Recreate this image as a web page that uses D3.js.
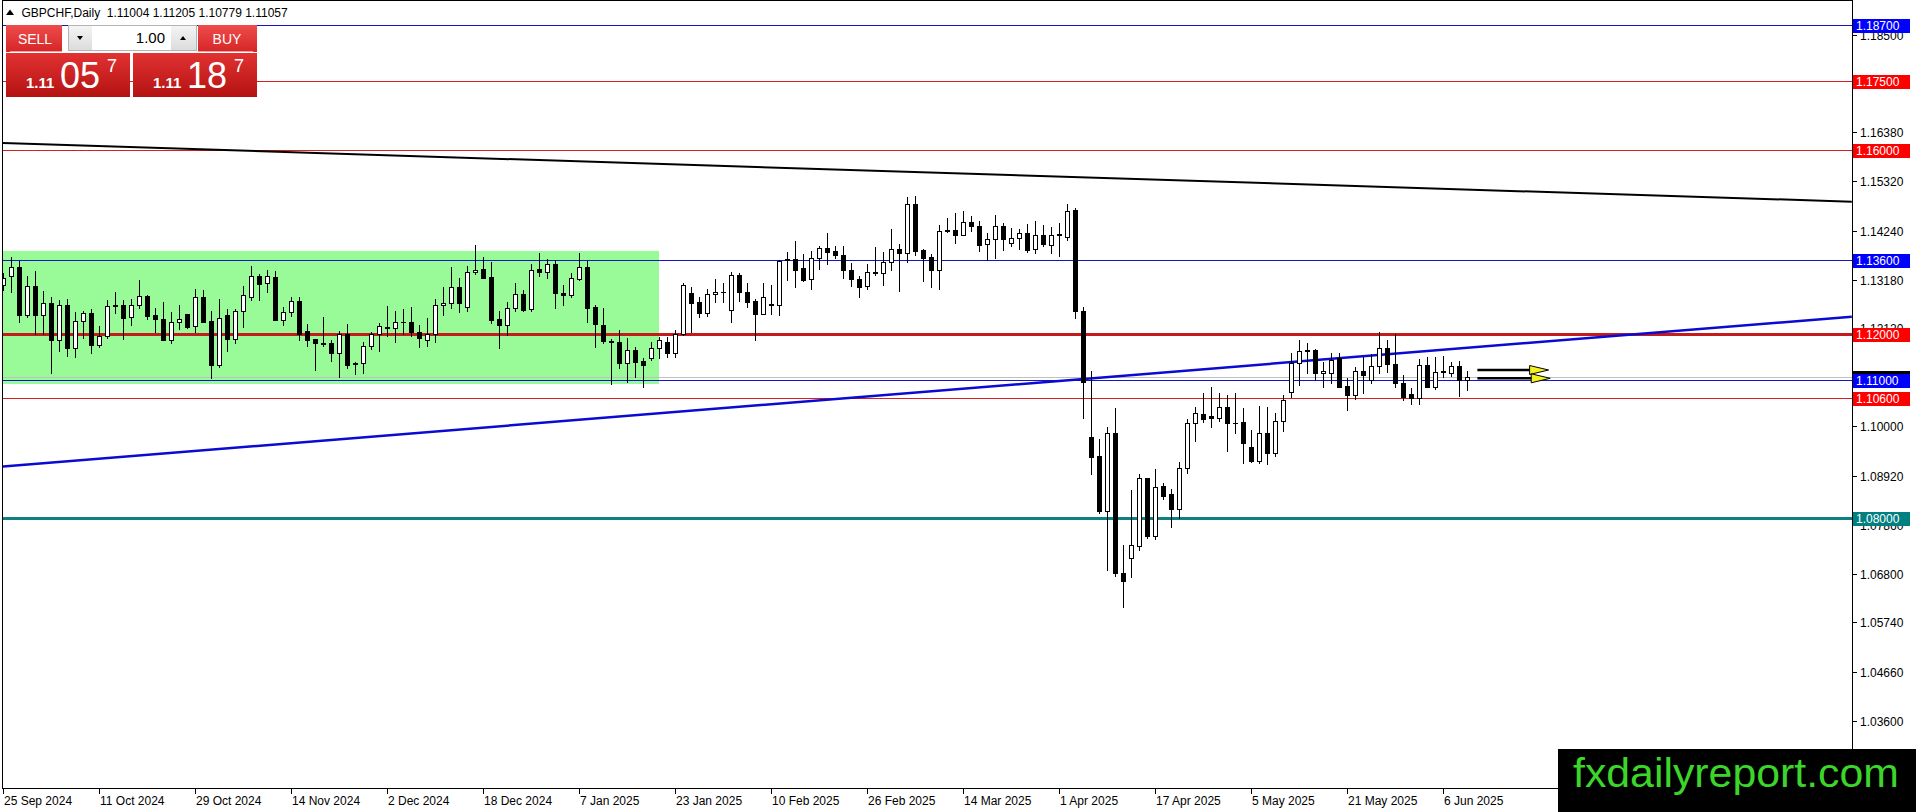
<!DOCTYPE html>
<html><head><meta charset="utf-8">
<script src="https://cdn.jsdelivr.net/npm/d3@7"></script>
<style>html,body{margin:0;padding:0;background:#fff;overflow:hidden}svg{display:block}</style>
</head><body>
<svg id="chart" width="1916" height="812"></svg>
<script>
// ---------------- DATA ----------------
const symbolTitle = "GBPCHF,Daily";
const lastQuote = [1.11004, 1.11205, 1.10779, 1.11057];
const bidPrice = 1.11057;
const askPrice = 1.11187;
const lotSize = "1.00";

const openP = [1.1306,1.1326,1.1345,1.1242,1.1304,1.1241,1.1267,1.1187,1.1262,1.1170,
1.1228,1.1245,1.1177,1.1196,1.1260,1.1264,1.1236,1.1262,1.1283,1.1241,
1.1232,1.1188,1.1226,1.1243,1.1217,1.1280,1.1228,1.1133,1.1241,1.1190,
1.1250,1.1280,1.1325,1.1310,1.1324,1.1231,1.1247,1.1271,1.1207,1.1189,
1.1180,1.1180,1.1158,1.1201,1.1136,1.1136,1.1175,1.1199,1.1216,1.1212,
1.1226,1.1227,1.1204,1.1188,1.1199,1.1262,1.1267,1.1302,1.1259,1.1335,
1.1341,1.1324,1.1232,1.1220,1.1257,1.1287,1.1254,1.1341,1.1335,1.1352,
1.1289,1.1284,1.1319,1.1345,1.1259,1.1220,1.1185,1.1183,1.1138,1.1165,
1.1141,1.1147,1.1169,1.1183,1.1159,1.1200,1.1288,1.1269,1.1245,1.1286,
1.1291,1.1252,1.1327,1.1291,1.1271,1.1244,1.1264,1.1264,1.1360,1.1362,
1.1343,1.1319,1.1364,1.1386,1.1380,1.1371,1.1340,1.1319,1.1304,1.1332,
1.1332,1.1356,1.1384,1.1375,1.1482,1.1382,1.1367,1.1339,1.1423,1.1425,
1.1416,1.1443,1.1434,1.1395,1.1406,1.1434,1.1397,1.1408,1.1419,1.1384,
1.1414,1.1393,1.1417,1.1411,1.1469,1.1249,1.0976,1.0935,1.0816,1.0986,
1.0682,1.0713,1.0740,1.0887,1.0762,1.0870,1.0852,1.0819,1.0910,1.1006,
1.1026,1.1022,1.1017,1.1041,1.1007,1.1010,1.0954,1.0925,1.0986,1.0942,
1.1011,1.1073,1.1136,1.1165,1.1165,1.1115,1.1115,1.1147,1.1087,1.1068,
1.1120,1.1100,1.1131,1.1169,1.1134,1.1094,1.1069,1.1060,1.1132,1.1086,
1.1117,1.1115,1.1131,1.11004];
const highP = [1.1332,1.1367,1.1359,1.1326,1.1337,1.1293,1.1280,1.1273,1.1275,1.1248,
1.1251,1.1255,1.1217,1.1273,1.1291,1.1274,1.1276,1.1317,1.1284,1.1256,
1.1270,1.1248,1.1264,1.1244,1.1298,1.1296,1.1251,1.1277,1.1254,1.1254,
1.1304,1.1348,1.1330,1.1339,1.1336,1.1259,1.1280,1.1280,1.1221,1.1190,
1.1236,1.1187,1.1207,1.1221,1.1139,1.1183,1.1205,1.1224,1.1260,1.1249,
1.1254,1.1259,1.1220,1.1234,1.1277,1.1303,1.1345,1.1321,1.1348,1.1393,
1.1367,1.1356,1.1250,1.1270,1.1311,1.1296,1.1352,1.1375,1.1363,1.1361,
1.1306,1.1332,1.1375,1.1359,1.1263,1.1256,1.1189,1.1209,1.1191,1.1172,
1.1147,1.1183,1.1194,1.1194,1.1209,1.1310,1.1301,1.1281,1.1297,1.1319,
1.1311,1.1335,1.1333,1.1310,1.1275,1.1310,1.1306,1.1360,1.1378,1.1401,
1.1374,1.1380,1.1391,1.1419,1.1390,1.1391,1.1355,1.1325,1.1351,1.1388,
1.1379,1.1427,1.1395,1.1497,1.1500,1.1384,1.1374,1.1437,1.1451,1.1462,
1.1467,1.1456,1.1446,1.1419,1.1458,1.1442,1.1430,1.1427,1.1439,1.1445,
1.1437,1.1433,1.1440,1.1482,1.1473,1.1258,1.1120,1.0973,1.0999,1.1039,
1.0742,1.0861,1.0896,1.0888,1.0906,1.0876,1.0863,1.0923,1.1015,1.1041,
1.1071,1.1084,1.1071,1.1068,1.1071,1.1039,1.0992,1.1044,1.1041,1.1029,
1.1068,1.1158,1.1187,1.1181,1.1167,1.1140,1.1159,1.1158,1.1104,1.1129,
1.1151,1.1156,1.1204,1.1187,1.1201,1.1111,1.1082,1.1146,1.1149,1.1151,
1.1152,1.1139,1.1142,1.11205];
const lowP = [1.1296,1.1292,1.1227,1.1236,1.1199,1.1201,1.1116,1.1164,1.1153,1.1149,
1.1192,1.1159,1.1171,1.1191,1.1245,1.1190,1.1220,1.1256,1.1232,1.1205,
1.1186,1.1181,1.1210,1.1214,1.1205,1.1225,1.1104,1.1129,1.1164,1.1181,
1.1216,1.1274,1.1274,1.1292,1.1230,1.1220,1.1239,1.1186,1.1174,1.1122,
1.1174,1.1142,1.1106,1.1126,1.1113,1.1116,1.1168,1.1162,1.1196,1.1183,
1.1199,1.1196,1.1172,1.1174,1.1183,1.1241,1.1256,1.1247,1.1249,1.1330,
1.1321,1.1223,1.1170,1.1198,1.1249,1.1251,1.1251,1.1325,1.1322,1.1256,
1.1264,1.1280,1.1317,1.1225,1.1171,1.1180,1.1091,1.1127,1.1096,1.1106,
1.1084,1.1144,1.1147,1.1149,1.1151,1.1198,1.1205,1.1236,1.1238,1.1270,
1.1269,1.1225,1.1272,1.1259,1.1187,1.1243,1.1243,1.1241,1.1317,1.1303,
1.1314,1.1297,1.1342,1.1352,1.1364,1.1322,1.1305,1.1281,1.1297,1.1327,
1.1306,1.1339,1.1294,1.1357,1.1372,1.1316,1.1301,1.1298,1.1422,1.1398,
1.1415,1.1424,1.1381,1.1361,1.1366,1.1382,1.1390,1.1385,1.1377,1.1375,
1.1390,1.1375,1.1370,1.1403,1.1235,1.1018,1.0897,1.0812,1.0687,1.0674,
1.0608,1.0673,1.0731,1.0756,1.0754,1.0841,1.0780,1.0800,1.0899,1.0968,
1.1010,1.0999,1.1012,1.0947,1.0986,1.0919,1.0923,1.0919,1.0918,1.0936,
1.0990,1.1064,1.1089,1.1115,1.1100,1.1086,1.1094,1.1084,1.1036,1.1058,
1.1071,1.1093,1.1116,1.1117,1.1086,1.1057,1.1047,1.1047,1.1084,1.1080,
1.1106,1.1109,1.1065,1.10779];
const closeP = [1.1322,1.1345,1.1242,1.1304,1.1241,1.1267,1.1186,1.1262,1.1170,1.1228,
1.1245,1.1177,1.1196,1.1260,1.1264,1.1235,1.1262,1.1283,1.1238,1.1232,
1.1187,1.1226,1.1232,1.1216,1.1280,1.1227,1.1133,1.1234,1.1190,1.1250,
1.1284,1.1325,1.1308,1.1325,1.1231,1.1247,1.1271,1.1200,1.1188,1.1181,
1.1179,1.1158,1.1201,1.1133,1.1135,1.1175,1.1199,1.1218,1.1212,1.1227,
1.1227,1.1204,1.1192,1.1199,1.1262,1.1267,1.1302,1.1267,1.1335,1.1340,
1.1322,1.1230,1.1220,1.1257,1.1287,1.1252,1.1340,1.1335,1.1353,1.1288,
1.1284,1.1321,1.1345,1.1257,1.1221,1.1184,1.1183,1.1138,1.1165,1.1139,
1.1132,1.1169,1.1186,1.1159,1.1200,1.1306,1.1268,1.1245,1.1286,1.1291,
1.1292,1.1327,1.1291,1.1270,1.1244,1.1281,1.1266,1.1359,1.1362,1.1340,
1.1317,1.1364,1.1386,1.1379,1.1371,1.1340,1.1319,1.1303,1.1334,1.1335,
1.1356,1.1384,1.1375,1.1482,1.1381,1.1366,1.1339,1.1423,1.1425,1.1416,
1.1443,1.1434,1.1394,1.1406,1.1434,1.1406,1.1408,1.1419,1.1382,1.1414,
1.1395,1.1416,1.1414,1.1468,1.1249,1.1095,1.0934,1.0816,1.0986,1.0682,
1.0664,1.0741,1.0887,1.0762,1.0868,1.0849,1.0819,1.0910,1.1006,1.1028,
1.1015,1.1018,1.1041,1.1006,1.1006,1.0964,1.0925,1.0986,1.0942,1.1011,
1.1057,1.1136,1.1163,1.1162,1.1115,1.1120,1.1144,1.1086,1.1068,1.1120,
1.1112,1.1131,1.1169,1.1134,1.1094,1.1064,1.1060,1.1132,1.1086,1.1117,
1.1119,1.1131,1.1100,1.11057];

const xTickBars = [0,12,24,36,48,60,72,84,96,108,120,132,144,156,168,180];
const xTickLabels = ["25 Sep 2024","11 Oct 2024","29 Oct 2024","14 Nov 2024","2 Dec 2024",
 "18 Dec 2024","7 Jan 2025","23 Jan 2025","10 Feb 2025","26 Feb 2025","14 Mar 2025",
 "1 Apr 2025","17 Apr 2025","5 May 2025","21 May 2025","6 Jun 2025"];
// price-scale ticks; the ones fully hidden behind level labels (1.17440, 1.11060) are not drawn as text
const yTickValues = [1.18500,1.17440,1.16380,1.15320,1.14240,1.13180,1.12120,1.11060,
 1.10000,1.08920,1.07860,1.06800,1.05740,1.04660,1.03600];
const yTickHidden = [1.17440, 1.11060];

const levelValues = [1.187, 1.175, 1.160, 1.136, 1.120, 1.110, 1.106, 1.080];
const levelKinds  = ["blue","red","red","blue","redThick","blue","red","teal"];

const blackTrendBars = [0, 231.1];
const blackTrendPrices = [1.16147, 1.14872];
const blueTrendBars = [0, 231.1];
const blueTrendPrices = [1.09117, 1.12376];

const zoneBars = [-1, 82];
const zonePrices = [1.13802, 1.10914];

const arrowFromBars = [184.3, 184.3];
const arrowToBars   = [193.2, 193.4];
const arrowPrices   = [1.11218, 1.11038];

const watermark = "fxdailyreport.com";

// ---------------- STYLES ----------------
const kindStyle = {
  blue:     {line:"#1414c8", w:1, box:"#0000ff"},
  red:      {line:"#d42020", w:1, box:"#ff0000"},
  redThick: {line:"#c41c1c", w:3, box:"#ff0000"},
  teal:     {line:"#0f7f7f", w:3, box:"#008080"}
};
const FONT = "'Liberation Sans', Arial, sans-serif";

// ---------------- SCALES ----------------
const svg = d3.select("#chart");
const plotL = 3, plotR = 1852, plotT = 1, plotB = 788;
const x = d3.scaleLinear().domain([0, 231.125]).range([3, 1852]);
const y = d3.scaleLinear().domain([1.02143, 1.19208]).range([788, 2]);

svg.append("rect").attr("width",1916).attr("height",812).attr("fill","#fff");

const defs = svg.append("defs");
defs.append("clipPath").attr("id","plotClip").append("rect")
  .attr("x",plotL).attr("y",plotT).attr("width",plotR-plotL).attr("height",plotB-plotT);
function grad(id, c1, c2){
  const g = defs.append("linearGradient").attr("id",id).attr("x1",0).attr("y1",0).attr("x2",0).attr("y2",1);
  g.append("stop").attr("offset","0%").attr("stop-color",c1);
  g.append("stop").attr("offset","100%").attr("stop-color",c2);
}
grad("btnGrad","#ee4c4c","#d62626");
grad("bigGrad","#e23232","#b41212");
grad("spinGrad","#f4f4f4","#dcdcdc");

const plot = svg.append("g").attr("clip-path","url(#plotClip)");

// green zone
plot.append("rect")
  .attr("x", x(zoneBars[0])).attr("y", y(zonePrices[0]))
  .attr("width", x(zoneBars[1]) - x(zoneBars[0]))
  .attr("height", y(zonePrices[1]) - y(zonePrices[0]))
  .attr("fill","#98fb98");

// bid line
plot.append("line").attr("x1",plotL).attr("x2",plotR)
  .attr("y1", Math.round(y(bidPrice))+0.5).attr("y2", Math.round(y(bidPrice))+0.5)
  .attr("stroke","#c0c0c0").attr("stroke-width",1);

// horizontal levels
levelValues.forEach((v,i)=>{
  const st = kindStyle[levelKinds[i]];
  const yy = Math.round(y(v)) + (st.w % 2 ? 0.5 : 0);
  plot.append("line").attr("x1",0).attr("x2",plotR).attr("y1",yy).attr("y2",yy)
    .attr("stroke",st.line).attr("stroke-width",st.w);
});

// trend lines
plot.append("line")
  .attr("x1",x(blackTrendBars[0])-3).attr("y1",y(blackTrendPrices[0]))
  .attr("x2",x(blackTrendBars[1])).attr("y2",y(blackTrendPrices[1]))
  .attr("stroke","#000").attr("stroke-width",2);
plot.append("line")
  .attr("x1",x(blueTrendBars[0])-3).attr("y1",y(blueTrendPrices[0]))
  .attr("x2",x(blueTrendBars[1])).attr("y2",y(blueTrendPrices[1]))
  .attr("stroke","#0a0ad2").attr("stroke-width",2.5);

// candles
const candles = plot.append("g");
openP.forEach((o,i)=>{
  const h = highP[i], l = lowP[i], c = closeP[i];
  const cx = Math.round(x(i));
  const bull = c >= o;
  const yTop = Math.round(y(Math.max(o,c)));
  const yBot = Math.round(y(Math.min(o,c)));
  candles.append("line")
    .attr("x1",cx+0.5).attr("x2",cx+0.5)
    .attr("y1",Math.round(y(h))).attr("y2",Math.round(y(l))+1)
    .attr("stroke","#000").attr("stroke-width",1);
  if (yBot - yTop < 1) {
    candles.append("line").attr("x1",cx-2).attr("x2",cx+3)
      .attr("y1",yTop+0.5).attr("y2",yTop+0.5).attr("stroke","#000").attr("stroke-width",1);
  } else {
    candles.append("rect")
      .attr("x",cx-1.5).attr("y",yTop+0.5).attr("width",4).attr("height",yBot-yTop)
      .attr("fill", bull ? "#fff" : "#000").attr("stroke","#000").attr("stroke-width",1);
  }
});

// arrows
arrowPrices.forEach((p,i)=>{
  const yy = y(p);
  const x0 = x(arrowFromBars[i]), x1 = x(arrowToBars[i]);
  plot.append("line").attr("x1",x0).attr("x2",x1-16).attr("y1",yy).attr("y2",yy)
    .attr("stroke","#000").attr("stroke-width",2.5);
  plot.append("path")
    .attr("d",`M${x1-19},${yy-4.5} L${x1},${yy} L${x1-19},${yy+4.5} Z`)
    .attr("fill","#f2f21e").attr("stroke","#000").attr("stroke-width",1);
});

// frame
const frame = svg.append("g").attr("stroke","#000").attr("stroke-width",1).attr("shape-rendering","crispEdges");
frame.append("line").attr("x1",2.5).attr("x2",2.5).attr("y1",0).attr("y2",plotB+0.5);
frame.append("line").attr("x1",2.5).attr("x2",plotR+0.5).attr("y1",0.5).attr("y2",0.5);
frame.append("line").attr("x1",plotR+0.5).attr("x2",plotR+0.5).attr("y1",0).attr("y2",plotB+0.5);
frame.append("line").attr("x1",2.5).attr("x2",plotR+0.5).attr("y1",plotB+0.5).attr("y2",plotB+0.5);

// price axis ticks
const yAxisG = svg.append("g");
yTickValues.forEach(v=>{
  const yy = Math.round(y(v));
  yAxisG.append("line").attr("x1",plotR).attr("x2",plotR+5).attr("y1",yy+0.5).attr("y2",yy+0.5)
    .attr("stroke","#000");
  if (yTickHidden.indexOf(v) < 0) {
    yAxisG.append("text").attr("x",1860).attr("y",yy+5)
      .attr("font-family",FONT).attr("font-size",12).attr("fill","#000")
      .text(d3.format(".5f")(v));
  }
});

// time axis
const xAxisG = svg.append("g");
xTickBars.forEach((b,i)=>{
  const xx = Math.round(x(b));
  xAxisG.append("line").attr("x1",xx+0.5).attr("x2",xx+0.5).attr("y1",plotB).attr("y2",plotB+6)
    .attr("stroke","#000");
  xAxisG.append("text").attr("x",xx+1).attr("y",805)
    .attr("font-family",FONT).attr("font-size",12).attr("fill","#000")
    .text(xTickLabels[i]);
});

// price labels
function priceBox(v, bg, withText){
  const yy = Math.round(y(v));
  svg.append("rect").attr("x",1853).attr("y",yy-6).attr("width",57).attr("height",14).attr("fill",bg);
  if (withText) {
    svg.append("text").attr("x",1856).attr("y",yy+5)
      .attr("font-family",FONT).attr("font-size",12).attr("fill","#fff")
      .text(d3.format(".5f")(v));
  }
}
priceBox(bidPrice, "#000", false);   // almost fully covered by the 1.11000 label
levelValues.forEach((v,i)=> priceBox(v, kindStyle[levelKinds[i]].box, true));

// title
svg.append("path").attr("d","M6,15 L10,9.5 L14,15 Z").attr("fill","#000");
svg.append("text").attr("x",21.5).attr("y",17.3)
  .attr("font-family",FONT).attr("font-size",12).attr("fill","#000")
  .style("white-space","pre")
  .text(symbolTitle + "  " + lastQuote.map(d3.format(".5f")).join(" "));

// trading panel
const panel = svg.append("g");
panel.append("rect").attr("x",6).attr("y",25).attr("width",56).attr("height",27).attr("fill","url(#btnGrad)");
panel.append("line").attr("x1",10).attr("x2",62).attr("y1",51.5).attr("y2",51.5).attr("stroke","#f2a0a0");
panel.append("text").attr("x",35).attr("y",44).attr("text-anchor","middle")
  .attr("font-family",FONT).attr("font-size",14).attr("fill","#fff").text("SELL");
panel.append("rect").attr("x",198).attr("y",25).attr("width",59).attr("height",27).attr("fill","url(#btnGrad)");
panel.append("line").attr("x1",198).attr("x2",253).attr("y1",51.5).attr("y2",51.5).attr("stroke","#f2a0a0");
panel.append("text").attr("x",227).attr("y",44).attr("text-anchor","middle")
  .attr("font-family",FONT).attr("font-size",14).attr("fill","#fff").text("BUY");
// spinner
panel.append("rect").attr("x",68.5).attr("y",25.5).attr("width",128).attr("height",25)
  .attr("fill","#fff").attr("stroke","#b4b4b4");
panel.append("rect").attr("x",69).attr("y",26).attr("width",23).attr("height",24).attr("fill","url(#spinGrad)");
panel.append("rect").attr("x",171).attr("y",26).attr("width",25).attr("height",24).attr("fill","url(#spinGrad)");
panel.append("path").attr("d","M77,36 L83,36 L80,40 Z").attr("fill","#000");
panel.append("path").attr("d","M180,40 L186,40 L183,36 Z").attr("fill","#000");
panel.append("text").attr("x",165).attr("y",43).attr("text-anchor","end")
  .attr("font-family",FONT).attr("font-size",15).attr("fill","#000").text(lotSize);

function bigQuote(x0, price){
  const s = d3.format(".5f")(price);      // e.g. 1.11057
  const head = s.slice(0,4), mid = s.slice(4,6), tail = s.slice(6);
  panel.append("rect").attr("x",x0).attr("y",53).attr("width",124).attr("height",44).attr("fill","url(#bigGrad)");
  panel.append("text").attr("x",x0+20).attr("y",88).attr("font-family",FONT).attr("font-weight","bold")
    .attr("font-size",15).attr("fill","#fff").text(head);
  panel.append("text").attr("x",x0+54).attr("y",88).attr("font-family",FONT)
    .attr("font-size",36).attr("fill","#fff").text(mid);
  panel.append("text").attr("x",x0+101).attr("y",72).attr("font-family",FONT)
    .attr("font-size",18).attr("fill","#fff").text(tail);
}
bigQuote(6, bidPrice);
bigQuote(133, askPrice);

// watermark
svg.append("rect").attr("x",1558).attr("y",749).attr("width",358).attr("height",63).attr("fill","#000");
svg.append("text").attr("x",1573).attr("y",787)
  .attr("font-family","'Liberation Sans Narrow','Liberation Sans',Arial,sans-serif")
  .attr("font-size",41).attr("fill","#3cd62a")
  .attr("textLength",326).attr("lengthAdjust","spacingAndGlyphs")
  .text(watermark);
</script>
</body></html>
